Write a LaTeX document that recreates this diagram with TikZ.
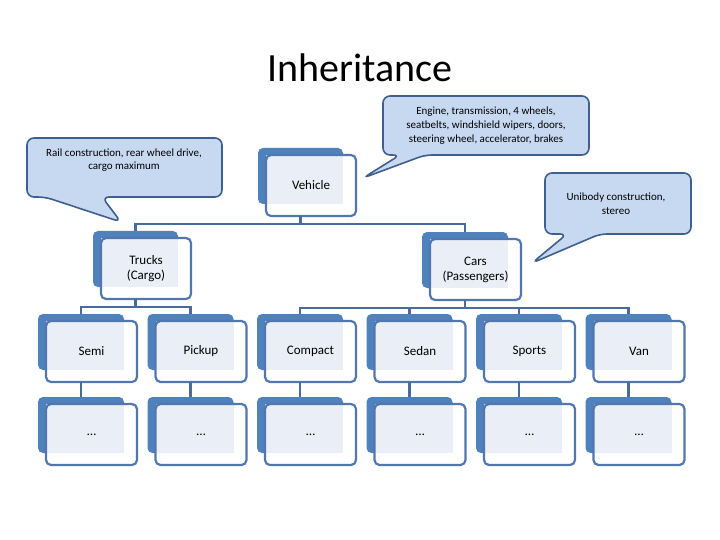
\documentclass[tikz,border=0pt]{standalone}
\usepackage{fontspec}
\setmainfont{Carlito}
\definecolor{bk}{HTML}{4F81BD}
\definecolor{ol}{HTML}{5277AE}
\definecolor{lf}{HTML}{E9EEF7}
\definecolor{cf}{HTML}{C6D9F1}
\definecolor{cb}{HTML}{3E5F8F}
\definecolor{ln}{HTML}{4A6C9B}
\tikzset{conn/.style={draw=ln,line width=2.2pt},
 callout/.style={fill=cf,draw=cb,line width=1.6pt,rounded corners=7pt},
 boxtxt/.style={font=\fontsize{13}{15}\selectfont,align=center}}
\newcommand\mybox[5]{% name, x, y, w, text
 \pgfmathsetmacro\ax{#2}\pgfmathsetmacro\ay{#3}\pgfmathsetmacro\bx{#2+#4}\pgfmathsetmacro\by{#3+56}%
 \fill[bk,rounded corners=5pt] (\ax,\ay) rectangle (\bx,\by);
 \fill[white,rounded corners=5pt] (\ax+8,\ay+7) rectangle (\bx+13,\by+12);
 \fill[lf] (\ax+8,\ay+7) rectangle (\bx,\by);
 \draw[ol,line width=2.2pt,rounded corners=5pt] (\ax+8,\ay+7) rectangle (\bx+13,\by+12);
 \node[boxtxt] (#1) at ({(\ax+\bx+21)/2},{(\ay+\by+19)/2}) {#5};
 \coordinate (#1t) at ({(\ax+\bx)/2},\ay);
 \coordinate (#1b) at ({(\ax+\bx)/2},\by+12);
}
\begin{document}
\begin{tikzpicture}[x=1pt,y=-1pt]
\useasboundingbox (0,0) rectangle (720,540);
\fill[white] (0,0) rectangle (720,540);
\node[font=\fontsize{40}{44}\selectfont] (title) at (360,68) {Inheritance};
\mybox{veh}{258}{148}{85}{Vehicle}
\mybox{trk}{93}{231}{85}{Trucks\\(Cargo)}
\mybox{car}{422}{232}{86}{Cars\\(Passengers)}
\foreach \n/\x/\t in {semi/38/Semi,pick/147.5/Pickup,comp/257/Compact,sed/366.5/Sedan,spo/476/Sports,van/585.5/Van}{
 \mybox{\n}{\x}{314}{86}{\t}
 \mybox{\n d}{\x}{397}{86}{\dots}
 \draw[conn] (\n b) -- (\n dt);
}
\draw[conn] (vehb) -- ++(0,8) coordinate (vj);
\draw[conn] (trkt) |- (vj) -| (cart);
\draw[conn] (trkb) -- ++(0,8) coordinate (tj);
\draw[conn] (semit) |- (tj) -| (pickt);
\draw[conn] (carb) -- ++(0,8) coordinate (cj);
\draw[conn] (compt) |- (cj) -| (vant);
\draw[conn] (sedt) -- (sedt |- cj);
\draw[conn] (spot) -- (spot |- cj);
% callouts
\coordinate (t1) at (121,222);
\draw[callout] (27,138) -- (222,138) -- (222,197) -- (102,197) -- (t1) -- (45,197) -- (27,197) -- cycle;
\node[font=\fontsize{11}{13}\selectfont,align=center] (c1) at (124,160) {Rail construction, rear wheel drive,\\cargo maximum};
\coordinate (t2) at (363,178);
\draw[callout] (383,96) -- (589,96) -- (589,155) -- (425,155) -- (t2) -- (400,155) -- (383,155) -- cycle;
\node[font=\fontsize{11}{14}\selectfont,align=center] (c2) at (486,126) {Engine, transmission, 4 wheels,\\seatbelts, windshield wipers, doors,\\steering wheel, accelerator, brakes};
\coordinate (t3) at (532,263);
\draw[callout] (545,173) -- (691,173) -- (691,234) -- (600,234) -- (t3) -- (567,234) -- (545,234) -- cycle;
\node[font=\fontsize{11}{14}\selectfont,align=center] (c3) at (616,204) {Unibody construction,\\stereo};
\end{tikzpicture}
\end{document}
